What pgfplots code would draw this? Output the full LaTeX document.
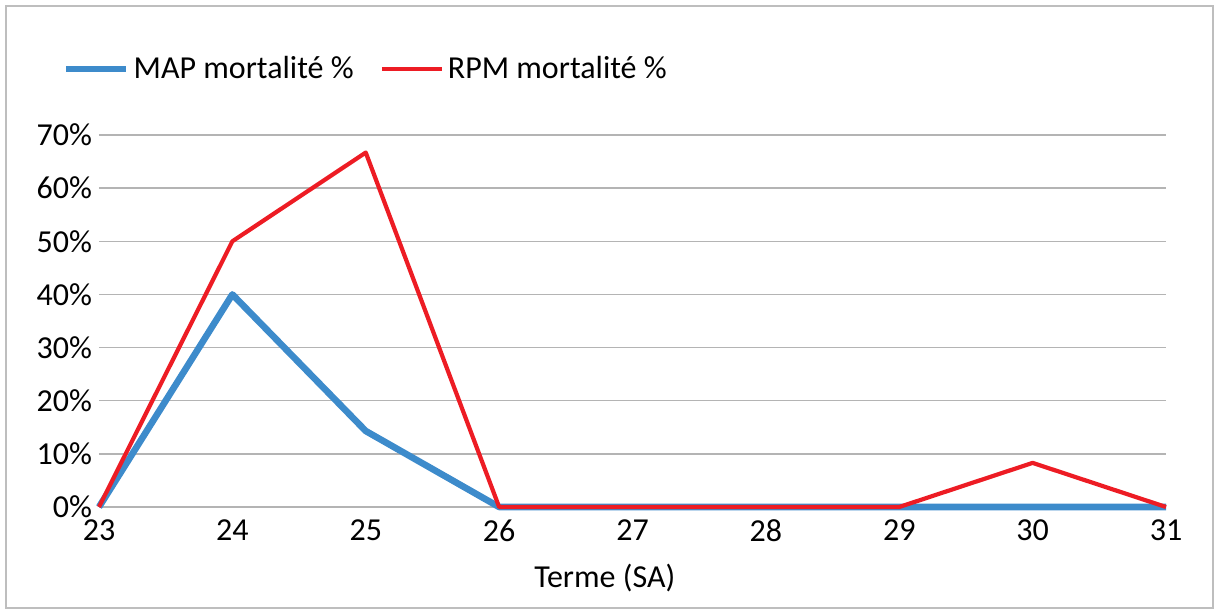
\documentclass[border=0pt]{standalone}
\usepackage{pgfplots}
\pgfplotsset{compat=1.18}
\usepackage{fontspec}
\setmainfont{Carlito}
\definecolor{mapblue}{RGB}{61,139,203}
\definecolor{rpmred}{RGB}{237,28,36}
\definecolor{gridgray}{RGB}{180,180,180}
\definecolor{framegray}{RGB}{190,190,190}
\begin{document}
\begin{tikzpicture}[x=1pt,y=1pt]
\path[use as bounding box] (0,0) rectangle (607.5,305);
\draw[line width=0.7pt, framegray] (3,1) rectangle (606.5,302);
\begin{axis}[
  at={(49.5pt,51.5pt)}, anchor=south west,
  scale only axis, width=533.5pt, height=186pt,
  xmin=23, xmax=31, ymin=0, ymax=70,
  xtick={23,...,31}, ytick={0,10,...,70},
  yticklabel={\pgfmathprintnumber{\tick}\%},
  /pgf/number format/assume math mode=true,
  axis line style={draw=none},
  major tick style={draw=none},
  ymajorgrids,
  major grid style={gridgray, line width=0.7pt},
  tick label style={font=\fontsize{16}{19}\selectfont},
  xticklabel style={yshift=-3pt},
  clip=false,
  xlabel={Terme (SA)},
  xlabel style={at={(axis description cs:0.474,-0.191)}, anchor=center, font=\fontsize{16}{19}\selectfont},
  legend columns=2,
  legend style={at={(axis description cs:-0.034,1.177)}, anchor=west, draw=none, fill=none,
    inner sep=0pt, font=\fontsize{16}{19}\selectfont,
    /tikz/every even column/.append style={column sep=11pt}},
  legend image code/.code={\draw[#1] (0pt,0pt) -- (30pt,0pt);},
  legend cell align=left,
]
\addplot[mapblue, line width=3.3pt, line join=round] coordinates {
  (23,0) (24,40) (25,14.3) (26,0) (27,0) (28,0) (29,0) (30,0) (31,0)
};
\addlegendentry{MAP mortalité \%}
\addplot[rpmred, line width=2.1pt, line join=round] coordinates {
  (23,0) (24,50) (25,66.7) (26,0) (27,0) (28,0) (29,0) (30,8.3) (31,0)
};
\addlegendentry{RPM mortalité \%}
\end{axis}
\end{tikzpicture}
\end{document}
